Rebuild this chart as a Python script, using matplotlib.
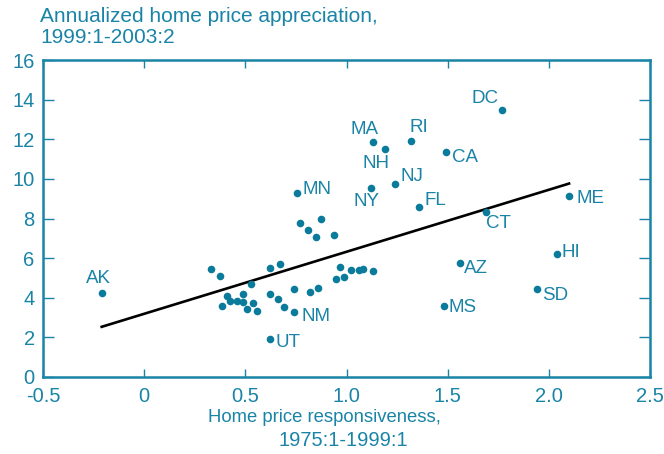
import matplotlib
matplotlib.use("Agg")
import matplotlib.pyplot as plt
import numpy as np

plt.rcParams['font.family'] = ['Liberation Sans', 'DejaVu Sans']

# labeled states: responsiveness (x), appreciation (y)
states = ['AK', 'DC', 'MA', 'NH', 'RI', 'CA', 'NJ', 'NY', 'FL', 'CT',
          'ME', 'HI', 'AZ', 'SD', 'MS', 'MN', 'NM', 'UT']
state_x = [-0.21, 1.77, 1.13, 1.19, 1.32, 1.49, 1.24, 1.12, 1.36, 1.69,
           2.10, 2.04, 1.56, 1.94, 1.48, 0.755, 0.74, 0.62]
state_y = [4.24, 13.5, 11.87, 11.5, 11.9, 11.36, 9.75, 9.55, 8.6, 8.33,
           9.14, 6.2, 5.75, 4.44, 3.59, 9.3, 3.28, 1.92]

# unlabeled states
other_x = [0.77, 0.875, 0.81, 0.85, 0.94,
           0.33, 0.376, 0.53, 0.62, 0.67, 0.41, 0.386, 0.425, 0.46, 0.49,
           0.49, 0.51, 0.54, 0.56, 0.62, 0.66, 0.69, 0.74, 0.82, 0.86,
           0.95, 0.97, 0.99, 1.02, 1.06, 1.08, 1.13]
other_y = [7.78, 7.98, 7.42, 7.07, 7.17,
           5.45, 5.1, 4.7, 5.5, 5.7, 4.1, 3.59, 3.84, 3.84, 4.19,
           3.79, 3.43, 3.74, 3.33, 4.19, 3.94, 3.54, 4.44, 4.29, 4.49,
           4.95, 5.55, 5.05, 5.4, 5.4, 5.45, 5.35]

# fitted line
fit_intercept = 3.19
fit_slope = 3.13

x_ticks = [-0.5, 0, 0.5, 1.0, 1.5, 2.0, 2.5]
x_ticklabels = ['-0.5', '0', '0.5', '1.0', '1.5', '2.0', '2.5']
y_ticks = [0, 2, 4, 6, 8, 10, 12, 14, 16]

# label offsets from the dot, in pixels
label_offsets = {
    'AK': (-3, 14), 'DC': (-17, 11), 'MA': (-8, 12), 'NH': (-9, -14),
    'RI': (8, 14), 'CA': (19, -6), 'NJ': (17, 7), 'NY': (-4, -14),
    'FL': (16, 6), 'CT': (12, -12), 'ME': (21, -3), 'HI': (14, 2),
    'AZ': (16, -5), 'SD': (18, -6), 'MS': (19, -2), 'MN': (20, 3),
    'NM': (22, -4), 'UT': (18, -4),
}

teal = '#1a84a7'
dot = '#0b7b9c'

fig = plt.figure(figsize=(6.64, 4.54), dpi=100)
ax = fig.add_axes([43 / 664, 1 - 377 / 454, 607 / 664, 317 / 454])

ax.scatter(other_x + state_x, other_y + state_y, s=30, color=dot, zorder=3, linewidths=0)

xs = np.array([min(state_x + other_x), max(state_x + other_x)])
ax.plot(xs, fit_intercept + fit_slope * xs, color='black', lw=1.9, zorder=2)

for name, x, y in zip(states, state_x, state_y):
    dx, dy = label_offsets[name]
    ax.annotate(name, (x, y), xytext=(dx, dy), textcoords='offset pixels',
                ha='center', va='center', fontsize=13.5, color=teal)

ax.set_xlim(-0.5, 2.5)
ax.set_ylim(0, 16)
ax.set_xticks(x_ticks)
ax.set_xticklabels(x_ticklabels)
ax.set_yticks(y_ticks)

for s in ax.spines.values():
    s.set_color(teal)
    s.set_linewidth(1.8)
ax.tick_params(direction='in', length=8, width=1.0, color=teal, labelcolor=teal,
               labelsize=14.5, top=True, right=True, pad=6)
ax.tick_params(axis='x', length=6, pad=7)

fig.text(40 / 664, 1 - 7 / 454, 'Annualized home price appreciation,\n1999:1-2003:2',
         ha='left', va='top', fontsize=15, color=teal, linespacing=1.15)
fig.text(324 / 664, 1 - 418 / 454, 'Home price responsiveness,',
         ha='center', va='center', fontsize=13.3, color=teal)
fig.text(343 / 664, 1 - 441 / 454, '1975:1-1999:1',
         ha='center', va='center', fontsize=14.5, color=teal)

fig.savefig('out.png', dpi=100)
